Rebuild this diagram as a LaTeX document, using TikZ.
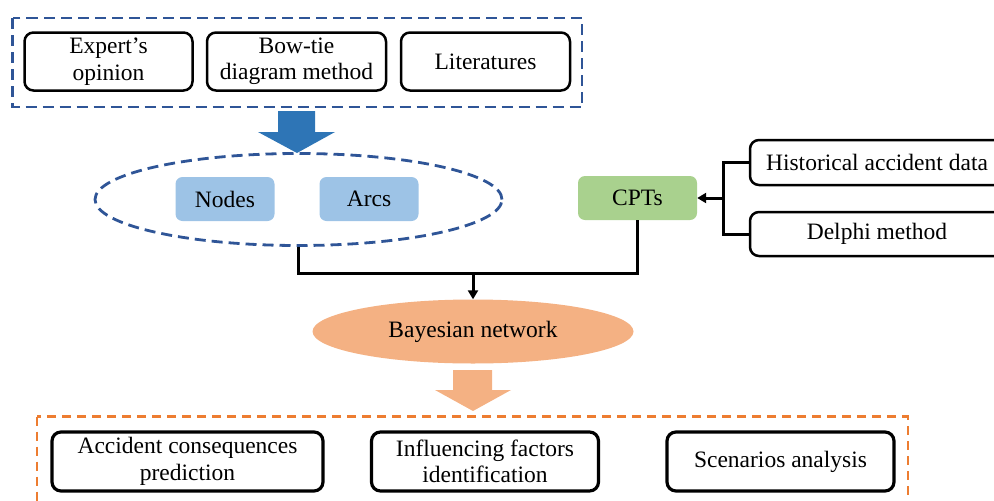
\documentclass[tikz,border=0pt]{standalone}
\usepackage{fontspec}
\setmainfont{Liberation Serif}
\usetikzlibrary{shapes.geometric,arrows.meta}
\definecolor{dblue}{HTML}{2F5597}
\definecolor{ablue}{HTML}{2E75B6}
\definecolor{lblue}{HTML}{9DC3E6}
\definecolor{lgreen}{HTML}{A9D18E}
\definecolor{lorange}{HTML}{F4B183}
\definecolor{dorange}{HTML}{ED7D31}
\tikzset{
  txt/.style={font=\fontsize{23.5}{26.5}\selectfont, align=center, inner sep=0pt},
  wbox/.style={txt, draw=black, line width=2.5pt, rounded corners=9pt, fill=white},
  obox/.style={txt, draw=black, line width=3.2pt, rounded corners=9pt, fill=white},
  cbox/.style={txt, rounded corners=7pt},
  conn/.style={draw=black, line width=3pt},
  tip/.style={-{Triangle[length=9pt,width=10pt]}},
  bdash/.style={draw=dblue, line width=2.8pt, dash pattern=on 11pt off 6pt},
  odash/.style={draw=dorange, line width=2.4pt, dash pattern=on 9pt off 6pt},
}
\begin{document}
\begin{tikzpicture}[x=1pt,y=-1pt]
\useasboundingbox (0,0) rectangle (994,501);
% top group
\draw[bdash] (12.5,18) rectangle (582,107);
\node[wbox, minimum width=168pt, minimum height=58pt] (exp) at (108.5,61.5) {Expert’s\\opinion};
\node[wbox, minimum width=179pt, minimum height=58pt] (bow) at (296.5,61.5) {Bow-tie\\diagram method};
\node[wbox, minimum width=169pt, minimum height=58pt] (lit) at (485.5,61.5) {Literatures};
% blue block arrow
\fill[ablue] (278,111) -- (315,111) -- (315,132) -- (335,132) -- (297,153) -- (258,132) -- (278,132) -- cycle;
% dashed ellipse group
\node[ellipse, bdash, minimum width=407pt, minimum height=92pt] (grp) at (298.5,199.5) {};
\node[cbox, fill=lblue, minimum width=99pt, minimum height=44pt] (nodes) at (225,199) {Nodes};
\node[cbox, fill=lblue, minimum width=99pt, minimum height=44pt] (arcs) at (369,199) {Arcs};
% CPTs
\node[cbox, fill=lgreen, minimum width=119pt, minimum height=44pt] (cpts) at (637.5,198) {CPTs};
\node[wbox, minimum width=254pt, minimum height=45pt] (hist) at (877,162.5) {Historical accident data};
\node[wbox, minimum width=254pt, minimum height=44pt] (del) at (877,234) {Delphi method};
\coordinate (br) at (723,198);
\draw[conn] (hist.west) -- (br |- hist.west) -- (br |- del.west) -- (del.west);
\draw[conn, tip] (br) -- (cpts.east);
% Bayesian network
\node[ellipse, fill=lorange, txt, minimum width=321pt, minimum height=64pt] (bn) at (473,331.5) {Bayesian network};
\coordinate (j) at (473,273);
\draw[conn] (grp.south) -- (grp.south |- j) -- (cpts.south |- j) -- (cpts.south);
\draw[conn, tip] (j) -- (bn.north);
% orange block arrow
\fill[lorange] (453,370) -- (492,370) -- (492,390) -- (511,390) -- (473,411) -- (435,390) -- (453,390) -- cycle;
% bottom group
\draw[odash] (37,416.5) rectangle (908,530);
\node[obox, minimum width=271pt, minimum height=59pt] (acc) at (187.5,461.5) {Accident consequences\\prediction};
\node[obox, minimum width=227pt, minimum height=59pt] (inf) at (485,461.5) {Influencing factors\\identification};
\node[obox, minimum width=227pt, minimum height=59pt] (sce) at (780.5,461.5) {Scenarios analysis};
\end{tikzpicture}
\end{document}
